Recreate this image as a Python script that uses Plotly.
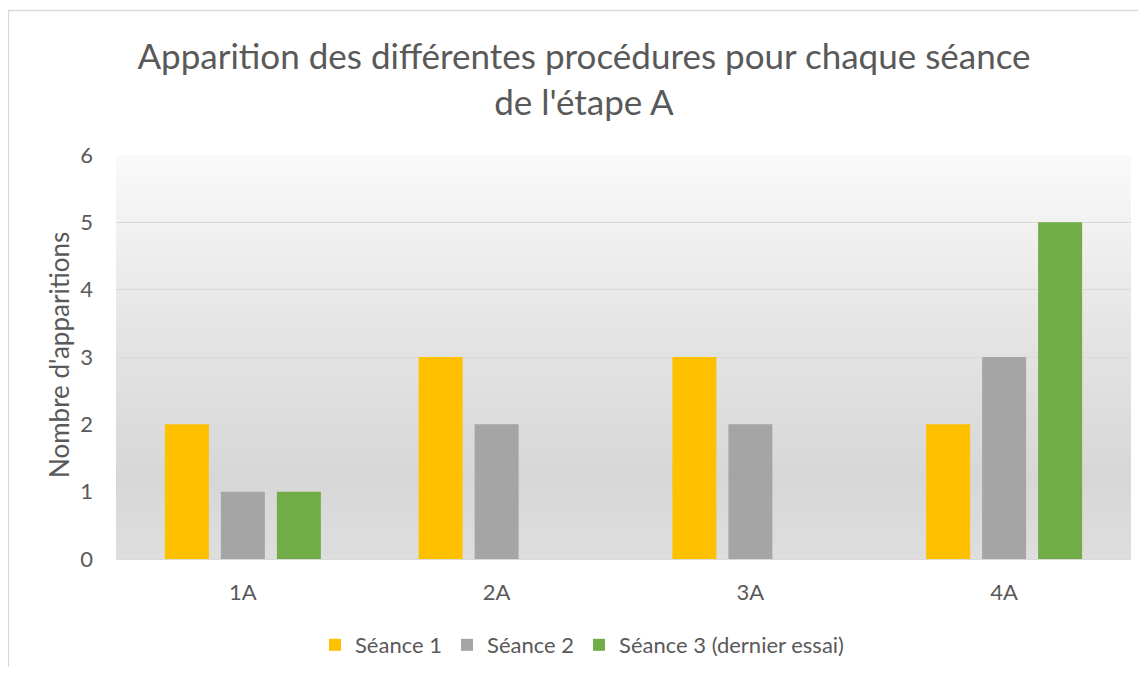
import plotly.graph_objects as go

categories = ["1A", "2A", "3A", "4A"]
seance1 = [2, 3, 3, 2]
seance2 = [1, 2, 2, 3]
seance3 = [1, 0, 0, 5]
series_names = ["Séance 1", "Séance 2", "Séance 3 (dernier essai)"]
y_ticks = [0, 1, 2, 3, 4, 5, 6]

colors = ["#FFC000", "#A5A5A5", "#70AD47"]
FONT = "Lato"
TXT = "#595959"

# page body has an 8px margin: work in reference pixel coords, shifted by OFF
OFF = 8
W, H = 1146 - 2 * OFF, 675 - 2 * OFF
# plot area in reference pixels: left 116, right 1131, top 155, bottom 559
L = 116 - OFF
T = 155 - OFF
R = W - (1131 - OFF)
B = H - (559 - OFF)
pw, ph = W - L - R, H - T - B

def px_x(p):
    return (p - OFF - L) / pw

def px_y(p):
    return (H - B - (p - OFF)) / ph

fig = go.Figure()
for name, vals, c in zip(series_names, [seance1, seance2, seance3], colors):
    fig.add_trace(go.Bar(x=categories, y=vals, name=name,
                         marker=dict(color=c, line=dict(width=0))))

# gradient background for plot area
stops = [(0.0, 0xDE), (0.2, 0xD7), (0.6, 0xE6), (1.0, 0xFA)]
def grey(t):
    for (a, ca), (b, cb) in zip(stops[:-1], stops[1:]):
        if a <= t <= b:
            v = ca + (cb - ca) * (t - a) / (b - a)
            return int(round(v))
    return stops[-1][1]

shapes = []
N = 80
for i in range(N):
    g = grey((i + 0.5) / N)
    shapes.append(dict(type="rect", xref="x domain", yref="y domain",
                       x0=0, x1=1, y0=i / N, y1=min(1.0, (i + 2) / N),
                       fillcolor=f"rgb({g},{g},{g})", line=dict(width=0),
                       layer="below"))
# outer chart border
shapes.append(dict(type="rect", xref="paper", yref="paper",
                   x0=px_x(8.5), x1=px_x(1250), y0=px_y(700), y1=px_y(10.5),
                   line=dict(color="#D9D9D9", width=1.3), fillcolor="rgba(0,0,0,0)",
                   layer="below"))

fig.update_layout(
    width=W, height=H,
    margin=dict(l=L, r=R, t=T, b=B, autoexpand=False),
    paper_bgcolor="white",
    plot_bgcolor="rgba(0,0,0,0)",
    barmode="group",
    bargap=0.338,
    bargroupgap=0.214,
    font=dict(family=FONT, color=TXT, size=22),
    title=dict(text="Apparition des différentes procédures pour chaque séance<br>de l'étape A",
               x=(584 - OFF) / W, xanchor="center", y=1 - (69 - OFF) / H, yanchor="middle",
               font=dict(family=FONT, size=35, color=TXT)),
    showlegend=True,
    legend=dict(orientation="h", x=px_x(582), xanchor="center",
                y=px_y(645), yanchor="middle", itemwidth=30,
                font=dict(family=FONT, size=22, color=TXT),
                bgcolor="rgba(0,0,0,0)", traceorder="normal"),
    shapes=shapes,
    annotations=[dict(text="Nombre d'apparitions", xref="paper", yref="paper",
                      x=px_x(59), y=px_y(355), textangle=-90, showarrow=False,
                      xanchor="center", yanchor="middle",
                      font=dict(family=FONT, size=26, color=TXT))],
)
fig.update_xaxes(showgrid=False, showline=True, linecolor="#D9D9D9", linewidth=1,
                 ticks="", ticklabelstandoff=14, tickfont=dict(size=22, color=TXT))
fig.update_yaxes(range=[0, 6], tickvals=y_ticks, showgrid=True, gridcolor="#D9D9D9",
                 gridwidth=1, zeroline=False, showline=False, ticks="",
                 ticklabelstandoff=22, tickfont=dict(size=22, color=TXT))

fig.write_html("out.html")
